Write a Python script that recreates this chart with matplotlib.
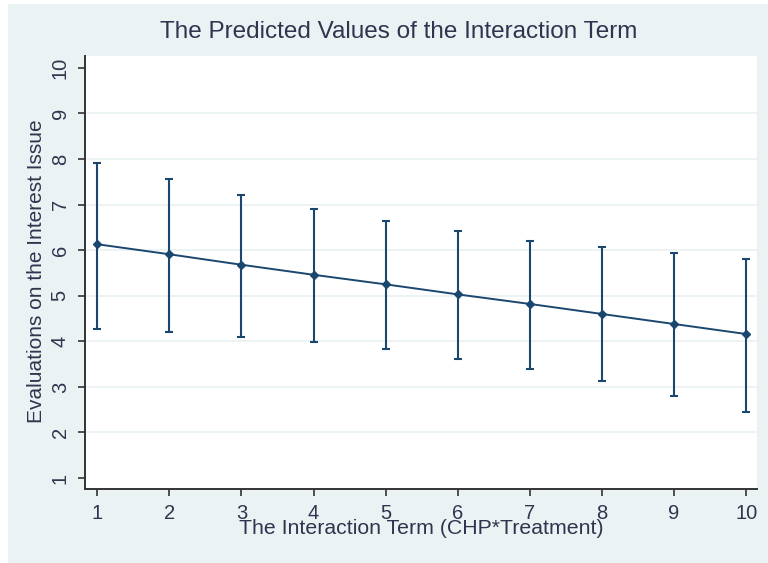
import matplotlib
matplotlib.use("Agg")
import matplotlib.pyplot as plt
from matplotlib.patches import Rectangle

# values
x_vals = [1, 2, 3, 4, 5, 6, 7, 8, 9, 10]
predicted = [6.13, 5.91, 5.68, 5.46, 5.25, 5.03, 4.82, 4.60, 4.38, 4.16]
upper = [7.91, 7.56, 7.21, 6.90, 6.64, 6.42, 6.20, 6.07, 5.93, 5.80]
lower = [4.27, 4.20, 4.09, 3.98, 3.83, 3.61, 3.39, 3.13, 2.80, 2.45]
y_ticks = [1, 2, 3, 4, 5, 6, 7, 8, 9, 10]
grid_levels = [2, 3, 4, 5, 6, 7, 8, 9]

NAVY = "#1a476f"
BG = "#eaf2f3"
TEXT = "#33334f"
W, H = 768, 563

plt.rcParams["font.family"] = ["Liberation Sans", "DejaVu Sans"]

fig = plt.figure(figsize=(W / 100, H / 100), dpi=100)
fig.patch.set_facecolor("white")
fig.patches.append(Rectangle((8 / W, 0), 1 - 8 / W, 1 - 4 / H,
                             transform=fig.transFigure, facecolor=BG,
                             edgecolor="none", zorder=-10))

ax = fig.add_axes([85 / W, 1 - 489 / H, (757 - 85) / W, (489 - 56) / H])
ax.set_facecolor("white")
ax.set_xlim(0.83, 10.15)
ax.set_ylim(0.76, 10.26)

for g in grid_levels:
    ax.axhline(g, color=BG, lw=1.3, zorder=0)

err_lo = [p - lo for p, lo in zip(predicted, lower)]
err_hi = [hi - p for p, hi in zip(predicted, upper)]
ax.errorbar(x_vals, predicted, yerr=[err_lo, err_hi], fmt="none",
            ecolor=NAVY, elinewidth=1.5, capsize=3, capthick=1.5, zorder=2)
ax.plot(x_vals, predicted, color=NAVY, lw=1.4, marker="D", ms=4,
        zorder=3)

for side in ("top", "right"):
    ax.spines[side].set_visible(False)
for side in ("left", "bottom"):
    ax.spines[side].set_color("#333333")
    ax.spines[side].set_linewidth(1.4)

ax.set_xticks(x_vals)
ax.set_yticks(y_ticks)
ax.tick_params(axis="both", direction="out", length=5, width=1.2,
               color="#333333", labelsize=14.5, labelcolor=TEXT, pad=6)
for lab in ax.get_yticklabels():
    lab.set_rotation(90)
    lab.set_va("center")

fig.text(399 / W, 1 - 32 / H, "The Predicted Values of the Interaction Term",
         ha="center", va="center", fontsize=17.5, color=TEXT)
fig.text(421 / W, 1 - 529 / H, "The Interaction Term (CHP*Treatment)",
         ha="center", va="center", fontsize=15.3, color=TEXT)
fig.text(37 / W, 1 - 271 / H, "Evaluations on the Interest Issue",
         ha="center", va="center", rotation=90, fontsize=15, color=TEXT)

fig.savefig("out.png", dpi=100)
